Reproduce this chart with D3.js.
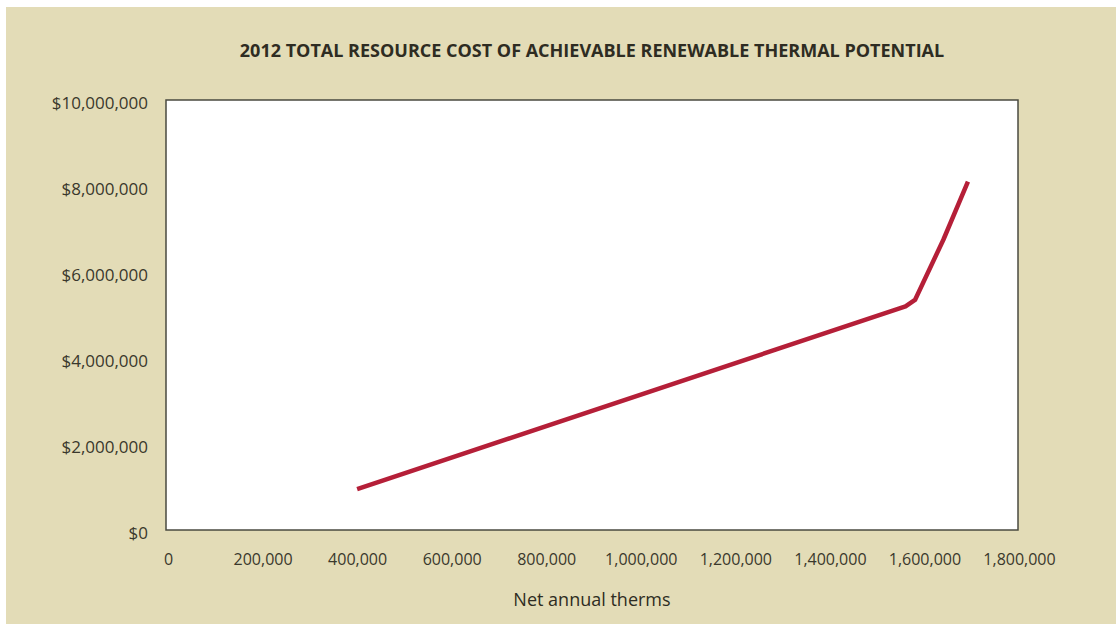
<!DOCTYPE html>
<html><head><meta charset="utf-8">
<script src="https://cdn.jsdelivr.net/npm/d3@7"></script>
<style>
html,body{margin:0;padding:0;background:#fff;}
svg{display:block;}
</style></head>
<body>
<svg id="chart" width="1116" height="624"></svg>
<script>
const therms = [400000, 1560000, 1580000, 1640000, 1692000];
const cost   = [950000, 5200000, 5350000, 6750000, 8100000];
const xTicks = [0, 200000, 400000, 600000, 800000, 1000000, 1200000, 1400000, 1600000, 1800000];
const yTicks = [0, 2000000, 4000000, 6000000, 8000000, 10000000];
const title = "2012 TOTAL RESOURCE COST OF ACHIEVABLE RENEWABLE THERMAL POTENTIAL";
const xTitle = "Net annual therms";

const svg = d3.select("#chart");
const font = "'Open Sans', 'Noto Sans', sans-serif";
svg.append("rect").attr("x",6).attr("y",7).attr("width",1110).attr("height",617).attr("fill","#e3dcb7");

const x = d3.scaleLinear().domain([0,1800000]).range([168,1019]);
const y = d3.scaleLinear().domain([0,10000000]).range([530,100]);

svg.append("rect").attr("x",166).attr("y",100).attr("width",852).attr("height",430)
  .attr("fill","#ffffff").attr("stroke","#4a4a40").attr("stroke-width",1.5);

svg.append("text").attr("x",592).attr("y",57).attr("text-anchor","middle")
  .attr("font-family",font).attr("font-weight","bold").attr("font-size",18)
  .attr("fill","#2e2c22").text(title);

const fmt = d3.format(",");
const xAxis = d3.axisBottom(x).tickValues(xTicks).tickSize(0).tickPadding(0).tickFormat(d=>fmt(d));
const gx = svg.append("g").attr("transform","translate(0,565)").call(xAxis);
gx.select(".domain").remove();
gx.selectAll("text").attr("font-family",font).attr("font-size",16).attr("fill","#3a382c").attr("dy",0);

const yAxis = d3.axisLeft(y).tickValues(yTicks).tickSize(0).tickPadding(0).tickFormat(d=>"$"+fmt(d));
const gy = svg.append("g").attr("transform","translate(148,0)").call(yAxis);
gy.select(".domain").remove();
gy.selectAll("text").attr("font-family",font).attr("font-size",17).attr("fill","#3a382c").attr("dy","0.5em");

svg.append("text").attr("x",592).attr("y",606).attr("text-anchor","middle")
  .attr("font-family",font).attr("font-size",18).attr("fill","#2e2c22").text(xTitle);

const data = therms.map((t,i)=>({t, c: cost[i]}));
const line = d3.line().x(d=>x(d.t)).y(d=>y(d.c)).curve(d3.curveLinear);
svg.append("path").datum(data).attr("d",line).attr("fill","none")
  .attr("stroke","#b51f38").attr("stroke-width",4.5).attr("stroke-linejoin","round");
</script>
</body></html>
